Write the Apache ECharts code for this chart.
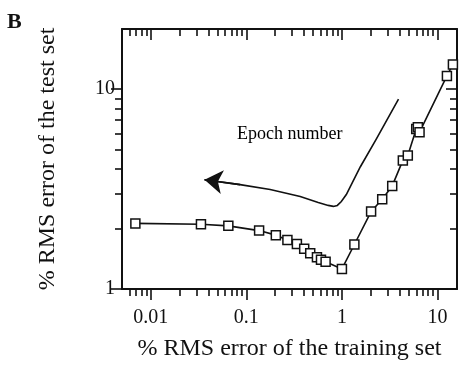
<!DOCTYPE html>
<html>
<head>
<meta charset="utf-8">
<script src="https://cdn.jsdelivr.net/npm/echarts@6/dist/echarts.min.js"></script>
<style>
  html, body { margin: 0; padding: 0; background: #fff; }
  #chart { width: 459px; height: 366px; }
</style>
</head>
<body>
<div id="chart"></div>
<script>
// % RMS error on the training set vs % RMS error on the test set, one point per epoch
const trainError = [0.0069, 0.0335, 0.0648, 0.136, 0.2035, 0.269, 0.338, 0.403, 0.466, 0.548, 0.604, 0.675,
                    1.00, 1.35, 2.02, 2.64, 3.36, 4.34, 4.89, 5.99, 6.23, 6.49, 12.55, 14.5];
const testError  = [2.13, 2.11, 2.07, 1.96, 1.86, 1.76, 1.68, 1.59, 1.51, 1.44, 1.40, 1.37,
                    1.26, 1.67, 2.44, 2.81, 3.28, 4.40, 4.66, 6.32, 6.45, 6.09, 11.65, 13.3];

// Arrow showing the direction of increasing epoch number
const arrowX = [3.91, 2.296, 1.56, 1.285, 1.112, 0.986, 0.895, 0.813, 0.719, 0.565, 0.366, 0.1775, 0.0859, 0.0365];
const arrowY = [8.92, 5.64, 4.09, 3.41, 2.97, 2.74, 2.62, 2.59, 2.62, 2.71, 2.90, 3.145, 3.33, 3.52];
const arrowLabel = 'Epoch number';
const arrowLabelAt = [0.0799, 5.97];

// Axis ranges and tick values
const xRange = [0.005, 16];
const yRange = [1, 20];
const xMajorTicks = [0.01, 0.1, 1, 10];
const xMinorTicks = [0.006, 0.007, 0.008, 0.009,
                     0.02, 0.03, 0.04, 0.05, 0.06, 0.07, 0.08, 0.09,
                     0.2, 0.3, 0.4, 0.5, 0.6, 0.7, 0.8, 0.9,
                     2, 3, 4, 5, 6, 7, 8, 9];
const yMajorTicks = [1, 10];
const yMinorTicks = [2, 3, 4, 5, 6, 7, 8, 9];

const xTitle = '% RMS error of the training set';
const yTitle = '% RMS error of the test set';
const panelLetter = 'B';

const serif = '"Liberation Serif", "DejaVu Serif", serif';
const ink = '#111';

const fmt = v => String(+Number(v).toPrecision(6));

function makeAxis(range, position, ticks, tickLen, inside, opts) {
  opts = opts || {};
  return Object.assign({
    type: 'log',
    logBase: 10,
    min: range[0],
    max: range[1],
    position: position,
    axisLine: { show: !!opts.line, lineStyle: { color: ink, width: 2 } },
    axisTick: {
      show: true,
      inside: inside,
      length: tickLen,
      customValues: ticks,
      lineStyle: { color: ink, width: 1.6 }
    },
    axisLabel: opts.labels ? {
      show: true,
      customValues: ticks,
      formatter: fmt,
      color: ink,
      fontFamily: serif,
      fontSize: 20,
      margin: opts.margin
    } : { show: false },
    splitLine: { show: false },
    minorTick: { show: false },
    minorSplitLine: { show: false }
  }, opts.extra || {});
}

const chart = echarts.init(document.getElementById('chart'), null, { renderer: 'canvas' });

const xAxes = [
  makeAxis(xRange, 'bottom', xMajorTicks, 11, false, {
    line: true, labels: true, margin: 19,
    extra: {
      name: xTitle,
      nameLocation: 'middle',
      nameGap: 48,
      nameTextStyle: { fontFamily: serif, fontSize: 24, color: ink }
    }
  }),
  makeAxis(xRange, 'bottom', xMinorTicks, 7, false),
  makeAxis(xRange, 'top', xMajorTicks, 11, true, { line: true }),
  makeAxis(xRange, 'top', xMinorTicks, 7, true)
];

const yAxes = [
  makeAxis(yRange, 'left', yMajorTicks, 11, false, {
    line: true, labels: true, margin: 7,
    extra: {
      name: yTitle,
      nameLocation: 'middle',
      nameGap: 62,
      nameTextStyle: { fontFamily: serif, fontSize: 24, color: ink }
    }
  }),
  makeAxis(yRange, 'left', yMinorTicks, 7, false),
  makeAxis(yRange, 'right', yMajorTicks, 11, true, { line: true }),
  makeAxis(yRange, 'right', yMinorTicks, 7, true)
];

const arrowPts = arrowX.map((x, i) => [x, arrowY[i]]);
const n = arrowPts.length;

chart.setOption({
  animation: false,
  backgroundColor: '#fff',
  grid: { left: 122, right: 2, top: 29, bottom: 75, containLabel: false },
  xAxis: xAxes,
  yAxis: yAxes,
  graphic: [{
    type: 'text',
    left: 7,
    top: 11,
    style: { text: panelLetter, font: 'bold 22px ' + serif, fill: ink }
  }],
  series: [
    {
      // curved body of the arrow
      type: 'lines',
      coordinateSystem: 'cartesian2d',
      xAxisIndex: 0,
      yAxisIndex: 0,
      polyline: true,
      lineStyle: { color: ink, width: 1.6, opacity: 1 },
      data: [{ coords: arrowPts }],
      silent: true,
      z: 3
    },
    {
      // last segment carries the arrow head
      type: 'lines',
      coordinateSystem: 'cartesian2d',
      xAxisIndex: 0,
      yAxisIndex: 0,
      symbol: ['none', 'arrow'],
      symbolSize: 18,
      lineStyle: { color: ink, width: 1.6, opacity: 1, curveness: 0 },
      itemStyle: { color: ink },
      data: [{ coords: [arrowPts[n - 2], arrowPts[n - 1]] }],
      silent: true,
      z: 3
    },
    {
      type: 'line',
      xAxisIndex: 0,
      yAxisIndex: 0,
      data: trainError.map((x, i) => [x, testError[i]]),
      symbol: 'rect',
      symbolSize: 9,
      showAllSymbol: true,
      lineStyle: { color: ink, width: 1.6 },
      itemStyle: { color: '#fff', borderColor: ink, borderWidth: 1.5 },
      z: 4
    }
  ]
});

// annotation text anchored at a data position on the chart's own scales
const labelPos = chart.convertToPixel({ xAxisIndex: 0, yAxisIndex: 0 }, arrowLabelAt);
chart.setOption({
  graphic: [
    {
      type: 'text',
      left: 7,
      top: 11,
      style: { text: panelLetter, font: 'bold 22px ' + serif, fill: ink }
    },
    {
      type: 'text',
      x: labelPos[0],
      y: labelPos[1],
      style: {
        text: arrowLabel,
        font: '18px ' + serif,
        fill: '#000',
        textAlign: 'left',
        textVerticalAlign: 'middle'
      }
    }
  ]
});
</script>
</body>
</html>
